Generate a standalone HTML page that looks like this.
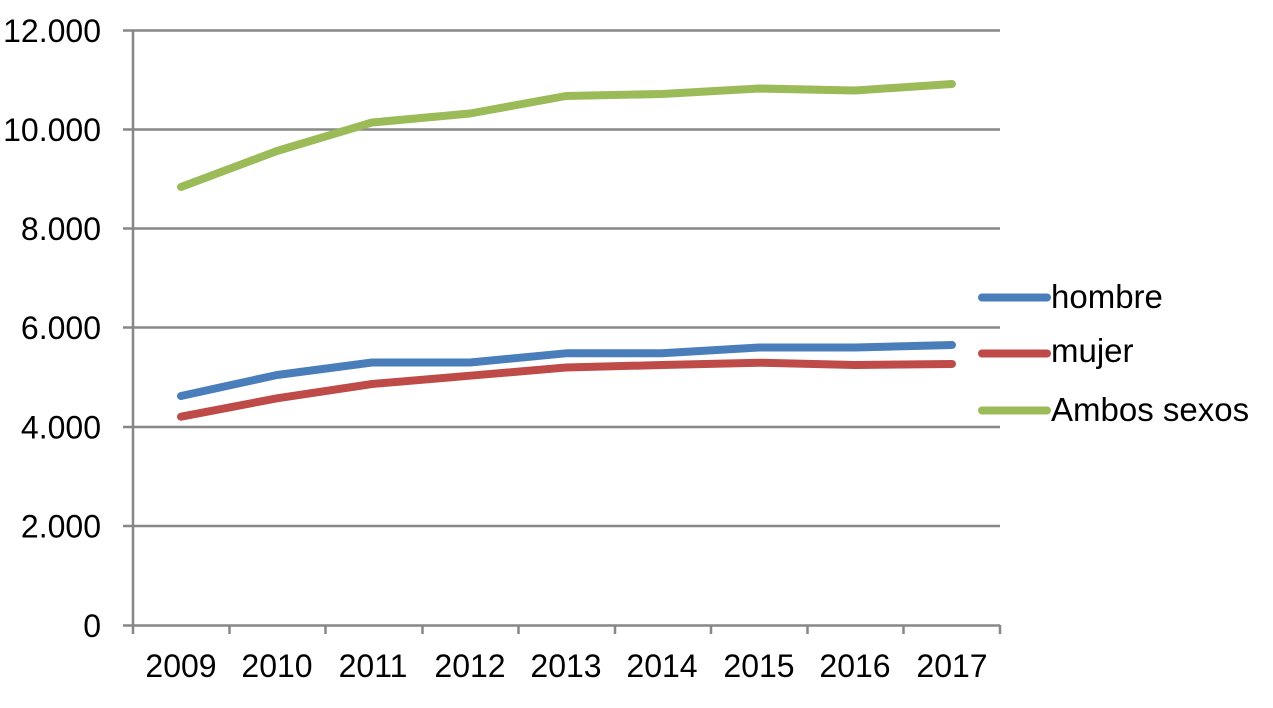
<!DOCTYPE html>
<html>
<head>
<meta charset="utf-8">
<style>
  html, body { margin: 0; padding: 0; background: #ffffff; }
  body { width: 1273px; height: 708px; overflow: hidden; }
  svg { display: block; }
  text { font-family: "Liberation Sans", Arial, sans-serif; fill: #000; }
</style>
</head>
<body>
<svg width="1273" height="708" viewBox="0 0 1273 708" xmlns="http://www.w3.org/2000/svg">
  <rect width="1273" height="708" fill="#ffffff"/>
  <!-- gridlines -->
  <g stroke="#878787" stroke-width="2.5">
    <line x1="123" y1="30.5" x2="1000" y2="30.5"/>
    <line x1="123" y1="129.5" x2="1000" y2="129.5"/>
    <line x1="123" y1="228.5" x2="1000" y2="228.5"/>
    <line x1="123" y1="327.5" x2="1000" y2="327.5"/>
    <line x1="123" y1="427" x2="1000" y2="427"/>
    <line x1="123" y1="526" x2="1000" y2="526"/>
    <line x1="123" y1="625.5" x2="1000" y2="625.5"/>
    <!-- y axis -->
    <line x1="133" y1="30" x2="133" y2="634"/>
    <!-- x ticks -->
    <line x1="229.5" y1="625" x2="229.5" y2="634"/>
    <line x1="325.5" y1="625" x2="325.5" y2="634"/>
    <line x1="422.5" y1="625" x2="422.5" y2="634"/>
    <line x1="518.5" y1="625" x2="518.5" y2="634"/>
    <line x1="615" y1="625" x2="615" y2="634"/>
    <line x1="711" y1="625" x2="711" y2="634"/>
    <line x1="807.5" y1="625" x2="807.5" y2="634"/>
    <line x1="903.5" y1="625" x2="903.5" y2="634"/>
    <line x1="1000" y1="625" x2="1000" y2="634"/>
  </g>
  <!-- y labels -->
  <g font-size="32" text-anchor="end">
    <text x="101" y="42">12.000</text>
    <text x="101" y="141">10.000</text>
    <text x="101" y="240">8.000</text>
    <text x="101" y="339">6.000</text>
    <text x="101" y="438.5">4.000</text>
    <text x="101" y="537.5">2.000</text>
    <text x="101" y="637">0</text>
  </g>
  <!-- x labels -->
  <g font-size="32" text-anchor="middle">
    <text x="181" y="677">2009</text>
    <text x="277" y="677">2010</text>
    <text x="373" y="677">2011</text>
    <text x="470" y="677">2012</text>
    <text x="566" y="677">2013</text>
    <text x="662" y="677">2014</text>
    <text x="759" y="677">2015</text>
    <text x="855" y="677">2016</text>
    <text x="952" y="677">2017</text>
  </g>
  <!-- series -->
  <g fill="none" stroke-width="8" stroke-linecap="round" stroke-linejoin="round">
    <polyline stroke="#9bbb59" points="181,187 277,151 372,122.5 470,113.5 566,96 662,94 759,88.5 855,90.5 952,84"/>
    <polyline stroke="#4a7ebb" points="181,396 277,375 372,362.5 470,362.5 566,353.3 662,353.3 759,347.5 855,347.5 952,345"/>
    <polyline stroke="#be4b48" points="181,416.7 277,398.3 372,384 470,375.7 566,367.5 662,365 759,362.7 855,365 952,364"/>
  </g>
  <!-- legend -->
  <g stroke-width="8" stroke-linecap="round">
    <line x1="982" y1="297.5" x2="1047" y2="297.5" stroke="#4a7ebb"/>
    <line x1="982" y1="353.5" x2="1047" y2="353.5" stroke="#be4b48"/>
    <line x1="982" y1="410.5" x2="1047" y2="410.5" stroke="#9bbb59"/>
  </g>
  <g font-size="33">
    <text x="1051" y="308">hombre</text>
    <text x="1051" y="362">mujer</text>
    <text x="1051" y="421">Ambos sexos</text>
  </g>
</svg>
</body>
</html>
